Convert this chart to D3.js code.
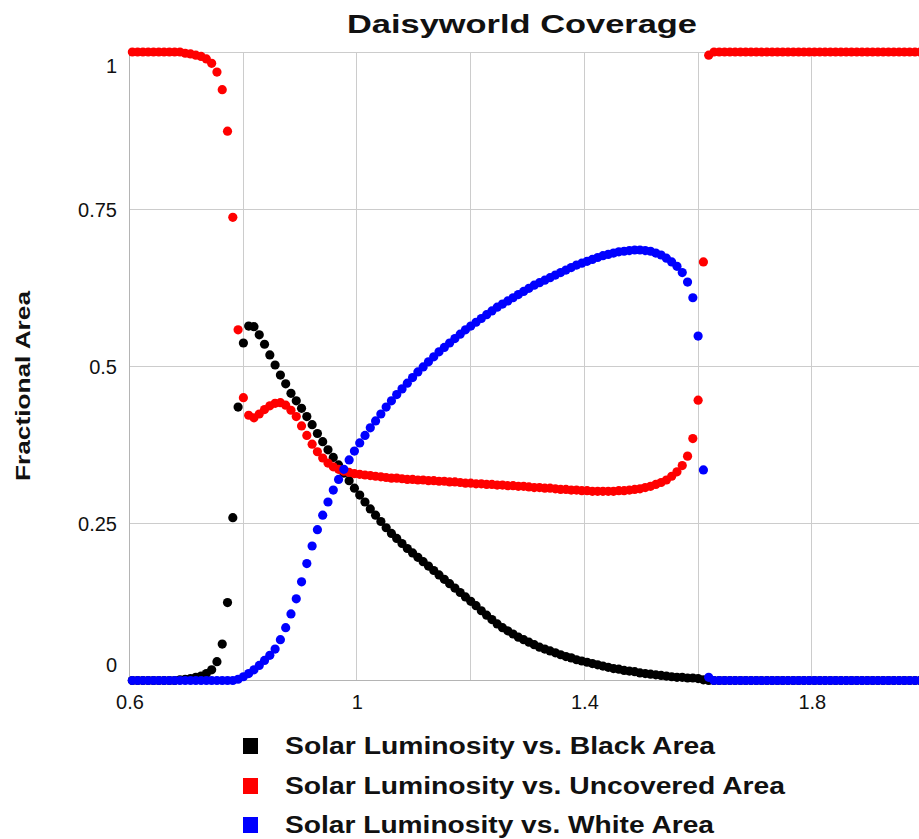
<!DOCTYPE html>
<html>
<head>
<meta charset="utf-8">
<script src="https://cdn.jsdelivr.net/npm/d3@7"></script>
<style>
  html, body { margin: 0; padding: 0; background: #ffffff; overflow: hidden; }
  svg { display: block; }
  text { font-family: "Liberation Sans", Arial, Helvetica, sans-serif; fill: #111; }
</style>
</head>
<body>
<svg id="chart" width="919" height="839"></svg>
<script>
// Solar luminosity sweep (x values shared by all three series)
const luminosity = [
  0.605, 0.6143, 0.6236, 0.6329, 0.6422, 0.6515, 0.6608, 0.6701, 0.6794, 0.6887,
  0.698, 0.7073, 0.7166, 0.7259, 0.7352, 0.7445, 0.7538, 0.7631, 0.7724, 0.7817,
  0.791, 0.8003, 0.8096, 0.8189, 0.8282, 0.8375, 0.8468, 0.8561, 0.8654, 0.8747,
  0.884, 0.8933, 0.9026, 0.9119, 0.9212, 0.9305, 0.9398, 0.9491, 0.9584, 0.9677,
  0.977, 0.9863, 0.9956, 1.0049, 1.0142, 1.0235, 1.0328, 1.0421, 1.0514, 1.0607,
  1.07, 1.0793, 1.0886, 1.0979, 1.1072, 1.1165, 1.1258, 1.1351, 1.1444, 1.1537,
  1.163, 1.1723, 1.1816, 1.1909, 1.2002, 1.2095, 1.2188, 1.2281, 1.2374, 1.2467,
  1.256, 1.2653, 1.2746, 1.2839, 1.2932, 1.3025, 1.3118, 1.3211, 1.3304, 1.3397,
  1.349, 1.3583, 1.3676, 1.3769, 1.3862, 1.3955, 1.4048, 1.4141, 1.4234, 1.4327,
  1.442, 1.4513, 1.4606, 1.4699, 1.4792, 1.4885, 1.4978, 1.5071, 1.5164, 1.5257,
  1.535, 1.5443, 1.5536, 1.5629, 1.5722, 1.5815, 1.5908, 1.6001, 1.6094, 1.6187,
  1.628, 1.6373, 1.6466, 1.6559, 1.6652, 1.6745, 1.6838, 1.6931, 1.7024, 1.7117,
  1.721, 1.7303, 1.7396, 1.7489, 1.7582, 1.7675, 1.7768, 1.7861, 1.7954, 1.8047,
  1.814, 1.8233, 1.8326, 1.8419, 1.8512, 1.8605, 1.8698, 1.8791, 1.8884, 1.8977,
  1.907, 1.9163, 1.9256, 1.9349, 1.9442, 1.9535, 1.9628, 1.9721, 1.9814, 1.9907,
  2.0
];

// Fraction of the planet covered by black daisies
const blackArea = [
  0, 0, 0, 0, 0, 0, 0, 0, 0, 0.001,
  0.002, 0.003, 0.005, 0.007, 0.011, 0.017, 0.03, 0.058, 0.124, 0.259,
  0.435, 0.537, 0.564, 0.563, 0.55, 0.535, 0.518, 0.502, 0.486, 0.472,
  0.457, 0.445, 0.433, 0.42, 0.407, 0.393, 0.38, 0.367, 0.355, 0.343,
  0.33, 0.318, 0.306, 0.295, 0.284, 0.273, 0.263, 0.253, 0.243, 0.234,
  0.226, 0.218, 0.21, 0.203, 0.196, 0.189, 0.182, 0.175, 0.168, 0.161,
  0.154, 0.147, 0.14, 0.133, 0.126, 0.119, 0.111, 0.104, 0.097, 0.09,
  0.084, 0.079, 0.074, 0.069, 0.065, 0.061, 0.057, 0.053, 0.05, 0.047,
  0.044, 0.041, 0.038, 0.036, 0.033, 0.031, 0.029, 0.027, 0.025, 0.023,
  0.021, 0.019, 0.018, 0.016, 0.015, 0.014, 0.012, 0.011, 0.01, 0.009,
  0.008, 0.007, 0.006, 0.005, 0.005, 0.004, 0.004, 0.003, 0.001, 0,
  0, 0, 0, 0, 0, 0, 0, 0, 0, 0,
  0, 0, 0, 0, 0, 0, 0, 0, 0, 0,
  0, 0, 0, 0, 0, 0, 0, 0, 0, 0,
  0, 0, 0, 0, 0, 0, 0, 0, 0, 0,
  0
];

// Fraction of bare ground
const uncoveredArea = [
  1, 1, 1, 1, 1, 1, 1, 1, 1, 1,
  0.998, 0.997, 0.995, 0.993, 0.989, 0.982, 0.968, 0.94, 0.874, 0.737,
  0.558, 0.45, 0.422, 0.418, 0.424, 0.431, 0.437, 0.441, 0.442, 0.438,
  0.43, 0.42, 0.405, 0.39, 0.376, 0.364, 0.354, 0.346, 0.34, 0.336,
  0.333, 0.331, 0.329, 0.328, 0.327, 0.326, 0.325, 0.324, 0.323, 0.322,
  0.322, 0.321, 0.32, 0.32, 0.319, 0.319, 0.318, 0.318, 0.317, 0.317,
  0.316, 0.316, 0.315, 0.314, 0.314, 0.313, 0.313, 0.312, 0.312, 0.311,
  0.311, 0.31, 0.31, 0.309, 0.309, 0.308, 0.307, 0.307, 0.306, 0.306,
  0.305, 0.304, 0.304, 0.303, 0.303, 0.302, 0.302, 0.301, 0.301, 0.301,
  0.301, 0.301, 0.302, 0.302, 0.303, 0.304, 0.305, 0.307, 0.309, 0.312,
  0.315, 0.319, 0.325, 0.332, 0.342, 0.357, 0.385, 0.446, 0.666, 0.995,
  1, 1, 1, 1, 1, 1, 1, 1, 1, 1,
  1, 1, 1, 1, 1, 1, 1, 1, 1, 1,
  1, 1, 1, 1, 1, 1, 1, 1, 1, 1,
  1, 1, 1, 1, 1, 1, 1, 1, 1, 1,
  1
];

// Fraction covered by white daisies
const whiteArea = [
  0, 0, 0, 0, 0, 0, 0, 0, 0, 0,
  0, 0, 0, 0, 0, 0, 0, 0, 0, 0,
  0.002, 0.006, 0.011, 0.017, 0.024, 0.032, 0.04, 0.05, 0.065, 0.084,
  0.106, 0.13, 0.157, 0.186, 0.214, 0.24, 0.263, 0.284, 0.303, 0.32,
  0.336, 0.351, 0.365, 0.378, 0.39, 0.402, 0.413, 0.424, 0.435, 0.445,
  0.455, 0.464, 0.473, 0.482, 0.491, 0.499, 0.507, 0.515, 0.523, 0.53,
  0.537, 0.544, 0.551, 0.558, 0.564, 0.57, 0.576, 0.582, 0.588, 0.594,
  0.599, 0.604, 0.609, 0.614, 0.619, 0.624, 0.629, 0.633, 0.637, 0.641,
  0.645, 0.649, 0.653, 0.657, 0.661, 0.664, 0.667, 0.67, 0.673, 0.676,
  0.678, 0.68, 0.682, 0.683, 0.684, 0.685, 0.685, 0.684, 0.683, 0.68,
  0.677, 0.672, 0.666, 0.659, 0.649, 0.634, 0.609, 0.548, 0.335, 0.005,
  0, 0, 0, 0, 0, 0, 0, 0, 0, 0,
  0, 0, 0, 0, 0, 0, 0, 0, 0, 0,
  0, 0, 0, 0, 0, 0, 0, 0, 0, 0,
  0, 0, 0, 0, 0, 0, 0, 0, 0, 0,
  0
];

const seriesNames = [
  "Solar Luminosity vs. Black Area",
  "Solar Luminosity vs. Uncovered Area",
  "Solar Luminosity vs. White Area"
];
const seriesColors = ["#000000", "#ff0000", "#0000ff"];

const xTickValues = [0.6, 1, 1.4, 1.8];
const xGridValues = [0.6, 0.8, 1.0, 1.2, 1.4, 1.6, 1.8, 2.0];
const yTickValues = [0, 0.25, 0.5, 0.75, 1];

const chartTitle = "Daisyworld Coverage";
const yAxisTitle = "Fractional Area";

// ---------------------------------------------------------------
const W = 919, H = 839;
const svg = d3.select("#chart");

const x = d3.scaleLinear().domain([0.6, 2.0]).range([129.5, 925.5]);
const y = d3.scaleLinear().domain([0, 1]).range([680.5, 52]);
const crisp = v => Math.round(v - 0.5) + 0.5;

const series = [blackArea, uncoveredArea, whiteArea].map((vals, i) => ({
  name: seriesNames[i],
  color: seriesColors[i],
  points: luminosity.map((L, k) => ({ L, v: vals[k] }))
}));

// Grid
const grid = svg.append("g").attr("class", "grid");
grid.selectAll("line.v")
  .data(xGridValues.filter(v => v > 0.6))
  .join("line")
  .attr("class", "v")
  .attr("x1", d => crisp(x(d))).attr("x2", d => crisp(x(d)))
  .attr("y1", y(1)).attr("y2", y(0))
  .attr("stroke", "#cccccc").attr("stroke-width", 1);
grid.selectAll("line.h")
  .data(yTickValues.filter(v => v > 0))
  .join("line")
  .attr("class", "h")
  .attr("x1", x(0.6)).attr("x2", W)
  .attr("y1", d => crisp(y(d))).attr("y2", d => crisp(y(d)))
  .attr("stroke", "#cccccc").attr("stroke-width", 1);

// Axis baselines
svg.append("line")
  .attr("x1", crisp(x(0.6))).attr("x2", crisp(x(0.6)))
  .attr("y1", y(1)).attr("y2", crisp(y(0)))
  .attr("stroke", "#b4b4b4").attr("stroke-width", 1);
svg.append("line")
  .attr("x1", x(0.6)).attr("x2", W)
  .attr("y1", crisp(y(0))).attr("y2", crisp(y(0)))
  .attr("stroke", "#b4b4b4").attr("stroke-width", 1);

// Axes (labels only)
const fmt = d3.format("~g");
const xAxis = svg.append("g")
  .attr("transform", `translate(0,${y(0)})`)
  .call(d3.axisBottom(x).tickValues(xTickValues).tickFormat(fmt).tickSize(0).tickPadding(0));
xAxis.select(".domain").remove();
xAxis.selectAll("text")
  .attr("font-size", 20)
  .attr("font-family", "Liberation Sans, Arial, sans-serif")
  .attr("fill", "#111")
  .attr("dy", null)
  .attr("y", 28);

const yAxis = svg.append("g")
  .attr("transform", `translate(117,0)`)
  .call(d3.axisLeft(y).tickValues(yTickValues).tickFormat(fmt).tickSize(0).tickPadding(0));
yAxis.select(".domain").remove();
yAxis.selectAll("text")
  .attr("font-size", 20)
  .attr("font-family", "Liberation Sans, Arial, sans-serif")
  .attr("fill", "#111")
  .attr("x", 0)
  .attr("dy", d => d === 1 ? "1.0em" : d === 0 ? "-0.45em" : "0.35em");

// Data points
const pts = svg.append("g").attr("class", "points");
series.forEach(s => {
  pts.append("g")
    .selectAll("circle")
    .data(s.points)
    .join("circle")
    .attr("cx", d => x(d.L))
    .attr("cy", d => y(d.v))
    .attr("r", 4.6)
    .attr("fill", s.color);
});

// Title
svg.append("text")
  .attr("x", 522).attr("y", 33)
  .attr("text-anchor", "middle")
  .attr("font-size", 26)
  .attr("font-weight", "bold")
  .attr("textLength", 350)
  .attr("lengthAdjust", "spacingAndGlyphs")
  .text(chartTitle);

// Y axis title
svg.append("text")
  .attr("transform", "translate(30,386) rotate(-90)")
  .attr("text-anchor", "middle")
  .attr("font-size", 20)
  .attr("font-weight", "bold")
  .attr("textLength", 190)
  .attr("lengthAdjust", "spacingAndGlyphs")
  .text(yAxisTitle);

// Legend
const legendRowsY = [746, 786, 825];
const legendWidths = [430, 500, 429];
const legend = svg.append("g").attr("class", "legend");
series.forEach((s, i) => {
  const cy = legendRowsY[i];
  legend.append("rect")
    .attr("x", 243).attr("y", cy - 8)
    .attr("width", 15).attr("height", 16)
    .attr("fill", s.color);
  legend.append("text")
    .attr("x", 285).attr("y", cy + 8)
    .attr("font-size", 23)
    .attr("font-weight", "bold")
    .attr("textLength", legendWidths[i])
    .attr("lengthAdjust", "spacingAndGlyphs")
    .text(s.name);
});
</script>
</body>
</html>
